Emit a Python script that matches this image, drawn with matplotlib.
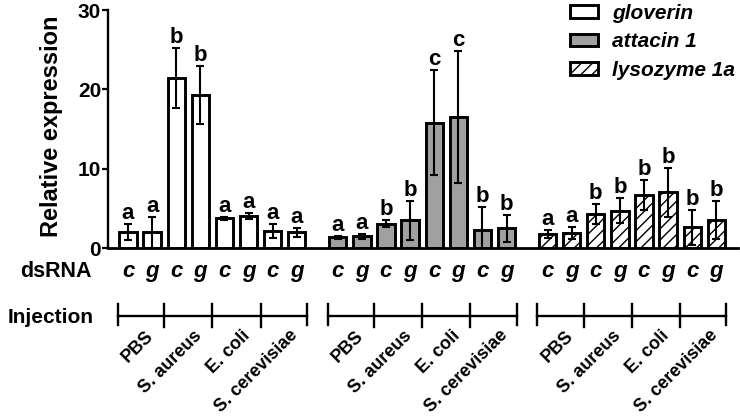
import numpy as np
import matplotlib.pyplot as plt
from matplotlib.patches import Patch
from matplotlib.transforms import blended_transform_factory

plt.rcParams['font.family'] = ['Liberation Sans', 'DejaVu Sans']
plt.rcParams['font.weight'] = 'bold'
plt.rcParams['hatch.linewidth'] = 1.0

# данные
genes = ['gloverin', 'attacin 1', 'lysozyme 1a']
injections = ['PBS', 'S. aureus', 'E. coli', 'S. cerevisiae']
dsrna = ['c', 'g'] * 4

gloverin = [2.0, 2.0, 21.4, 19.3, 3.8, 4.1, 2.2, 2.0]
gloverin_err = [1.0, 1.9, 3.8, 3.6, 0.2, 0.4, 0.9, 0.6]
attacin = [1.4, 1.5, 3.1, 3.5, 15.8, 16.5, 2.3, 2.5]
attacin_err = [0.2, 0.3, 0.4, 2.4, 6.6, 8.3, 2.9, 1.7]
lysozyme = [1.8, 1.9, 4.3, 4.75, 6.7, 7.05, 2.65, 3.6]
lysozyme_err = [0.5, 0.75, 1.3, 1.6, 1.9, 3.1, 2.2, 2.4]

gloverin_sig = ['a', 'a', 'b', 'b', 'a', 'a', 'a', 'a']
attacin_sig = ['a', 'a', 'b', 'b', 'c', 'c', 'b', 'b']
lysozyme_sig = ['a', 'a', 'b', 'b', 'b', 'b', 'b', 'b']

values = [gloverin, attacin, lysozyme]
errors = [gloverin_err, attacin_err, lysozyme_err]
letters = [gloverin_sig, attacin_sig, lysozyme_sig]
fills = ['white', '#a0a0a0', 'white']
hatches = [None, None, '///']

group_step = 8.7

fig = plt.figure(figsize=(7.4, 4.18), dpi=100)
ax = fig.add_axes([108 / 740, 1 - 248.3 / 418, 630 / 740, 238.3 / 418])

for g in range(3):
    x = g * group_step + np.arange(8)
    ax.bar(x, values[g], width=0.72, color=fills[g], edgecolor='black',
           linewidth=2.1, hatch=hatches[g], zorder=2)
    ax.errorbar(x, values[g], yerr=errors[g], fmt='none', ecolor='black',
                elinewidth=1.5, capsize=3.2, capthick=1.5, zorder=3)
    for xi, v, e, s in zip(x, values[g], errors[g], letters[g]):
        ax.annotate(s, (xi, v + e), xytext=(0, 0), textcoords='offset points',
                    ha='center', va='bottom', fontsize=16, fontweight='bold',
                    annotation_clip=False)

ax.set_xlim(-0.83, 2 * group_step + 7 + 0.9)
ax.set_ylim(0, 30)
ax.set_yticks([0, 10, 20, 30])
ax.set_xticks([])
ax.tick_params(axis='y', labelsize=15, length=4, width=1.6, pad=1)
for lab in ax.get_yticklabels():
    lab.set_fontweight('bold')
ax.spines['top'].set_visible(False)
ax.spines['right'].set_visible(False)
ax.spines['left'].set_linewidth(1.7)
ax.spines['bottom'].set_linewidth(2.0)

fig.text(52 / 740, 1 - 126 / 418, 'Relative expression', rotation=90,
         ha='center', va='center', fontsize=17, fontweight='bold')

# подписи под осью
tr = blended_transform_factory(ax.transData, fig.transFigure)
fig.text(92 / 740, 1 - 277 / 418, 'dsRNA', ha='right', va='baseline',
         fontsize=15.5, fontweight='bold')
fig.text(94 / 740, 1 - 323 / 418, 'Injection', ha='right', va='baseline',
         fontsize=15, fontweight='bold')

y_line = 1 - 316 / 418
y_top = 1 - 304 / 418
y_end = 1 - 325 / 418
y_mid = 1 - 327 / 418
for g in range(3):
    x = g * group_step + np.arange(8)
    for xi, s in zip(x, dsrna):
        ax.text(xi, 1 - 277 / 418, s, transform=tr, ha='center', va='baseline',
                fontsize=16, fontweight='bold', fontstyle='italic')
    left, right = x[0] - 0.42, x[-1] + 0.42
    ax.plot([left, right], [y_line, y_line], color='black', lw=1.7,
            transform=tr, clip_on=False)
    for b in [left, right]:
        ax.plot([b, b], [y_top, y_end], color='black', lw=1.7,
                transform=tr, clip_on=False)
    for k in range(1, 4):
        b = x[2 * k] - 0.5
        ax.plot([b, b], [y_top, y_mid], color='black', lw=1.7,
                transform=tr, clip_on=False)
    for k, name in enumerate(injections):
        xc = x[2 * k] + 0.5
        ax.text(xc + 0.2, 1 - 327 / 418, name, transform=tr, rotation=45,
                rotation_mode='anchor', ha='right', va='top', fontsize=13,
                fontweight='bold')

handles = [Patch(facecolor=fills[i], edgecolor='black', hatch=hatches[i],
                 linewidth=2.1, label=genes[i]) for i in range(3)]
fig.legend(handles=handles, loc='upper left', bbox_to_anchor=(570 / 740, 1 - 4 / 418),
           frameon=False, prop=dict(style='italic', weight='bold', size=15),
           handlelength=1.35, handleheight=0.55, handletextpad=0.65,
           labelspacing=0.45, borderpad=0, borderaxespad=0)

plt.savefig('out.png', dpi=100)
